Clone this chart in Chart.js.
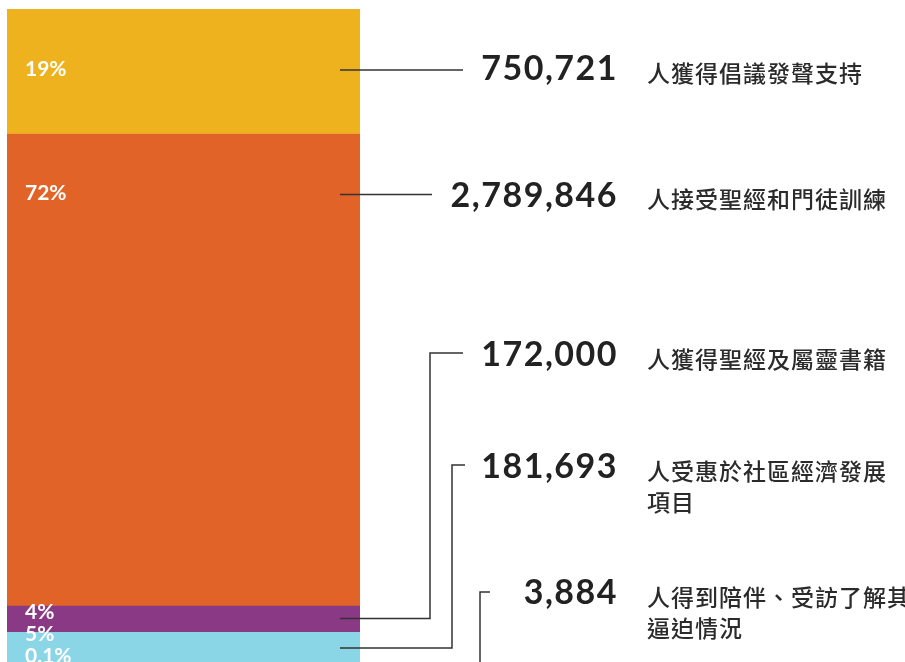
<!DOCTYPE html>
<html>
<head>
<meta charset="utf-8">
<script src="https://cdn.jsdelivr.net/npm/chart.js@4"></script>
<style>
  html, body { margin: 0; padding: 0; background: #fff; overflow: hidden; }
  #wrap { width: 905px; height: 668px; position: relative; }
</style>
</head>
<body>
<div id="wrap"><canvas id="myBarChart"></canvas></div>
<script>
// datos del gráfico
const percentLabels = ['19%', '72%', '4%', '5%', '0.1%'];
const percentValues = [19, 72, 4, 5, 0.1];
const peopleCounts = ['750,721', '2,789,846', '172,000', '181,693', '3,884'];
const descriptions = [
    ['人獲得倡議發聲支持'],
    ['人接受聖經和門徒訓練'],
    ['人獲得聖經及屬靈書籍'],
    ['人受惠於社區經濟發展', '項目'],
    ['人得到陪伴、受訪了解其', '逼迫情況']
];
const barColors = ['#EDB21E', '#E26328', '#8A3984', '#8AD6E6', '#8AD6E6'];

const numberFont = 'bold 34px Lato, "DejaVu Sans", sans-serif';
const textFont = '500 23px "Noto Sans CJK TC", sans-serif';
const percentFont = 'bold 21px Lato, "DejaVu Sans", sans-serif';

// texto y líneas guía dibujadas sobre la barra
const annotationPlugin = {
    id: 'annotations',
    afterDatasetsDraw(chart) {
        const ctx = chart.ctx;
        const yScale = chart.scales.y;
        const area = chart.chartArea;
        const lineStartX = area.right - 20;

        // posiciones de cada segmento
        let cum = 0;
        let smallY = null;
        const segs = percentValues.map(v => {
            const top = yScale.getPixelForValue(cum);
            cum += v;
            const bottom = yScale.getPixelForValue(cum);
            let labelY, leaderY;
            if (bottom - top > 100) {
                labelY = top + 60;
                leaderY = labelY + 1;
            } else {
                smallY = smallY === null ? top + 7 : smallY + 22;
                labelY = smallY;
                leaderY = (top + bottom) / 2;
            }
            return { top, bottom, labelY, leaderY };
        });

        ctx.save();
        // etiquetas de porcentaje
        ctx.fillStyle = '#ffffff';
        ctx.font = percentFont;
        ctx.textAlign = 'left';
        ctx.textBaseline = 'middle';
        percentLabels.forEach((lbl, i) => {
            ctx.fillText(lbl, area.left + 18, segs[i].labelY);
        });

        // filas de texto a la derecha
        const rowY = [segs[0].leaderY - 1, segs[1].leaderY + 1, 355, 467, 593];
        const elbowX = [null, null, 430, 452, 480];
        const lineEndX = [463, 432, 463, 465, 490];

        ctx.strokeStyle = '#333333';
        ctx.lineWidth = 1.5;
        rowY.forEach((ry, i) => {
            ctx.beginPath();
            if (elbowX[i] === null) {
                ctx.moveTo(lineStartX, segs[i].leaderY);
                ctx.lineTo(lineEndX[i], segs[i].leaderY);
            } else {
                const hy = i === 4 ? ry - 1 : ry - 2;
                ctx.moveTo(lineStartX, segs[i].leaderY);
                ctx.lineTo(elbowX[i], segs[i].leaderY);
                ctx.lineTo(elbowX[i], hy);
                ctx.lineTo(lineEndX[i], hy);
            }
            ctx.stroke();

            ctx.fillStyle = '#222222';
            ctx.font = numberFont;
            ctx.letterSpacing = '1.5px';
            ctx.textAlign = 'right';
            ctx.textBaseline = 'alphabetic';
            ctx.fillText(peopleCounts[i], 618, ry + 11);

            ctx.fillStyle = '#2b2b2b';
            ctx.font = textFont;
            ctx.letterSpacing = '1px';
            ctx.textAlign = 'left';
            ctx.textBaseline = 'middle';
            descriptions[i].forEach((line, j) => {
                ctx.fillText(line, 647, ry + 4 + j * 31);
            });
            ctx.letterSpacing = '0px';
        });
        ctx.restore();
    }
};

function createBarChart() {
    const ctx = document.getElementById('myBarChart').getContext('2d');

    new Chart(ctx, {
        type: 'bar',
        data: {
            labels: [''],
            datasets: percentValues.map((v, i) => ({
                label: percentLabels[i],
                data: [v],
                backgroundColor: barColors[i],
                borderWidth: 0,
                categoryPercentage: 1,
                barPercentage: 1
            }))
        },
        options: {
            responsive: true,
            maintainAspectRatio: false,
            animation: false,
            layout: {
                padding: { left: 7, right: 545, top: 9, bottom: 3 }
            },
            scales: {
                x: { stacked: true, display: false },
                y: {
                    stacked: true,
                    display: false,
                    reverse: true,
                    min: 0,
                    max: 100.1
                }
            },
            plugins: {
                legend: { display: false },
                tooltip: { enabled: false },
                title: { display: false }
            }
        },
        plugins: [annotationPlugin]
    });
}

document.addEventListener('DOMContentLoaded', createBarChart);
</script>
</body>
</html>
